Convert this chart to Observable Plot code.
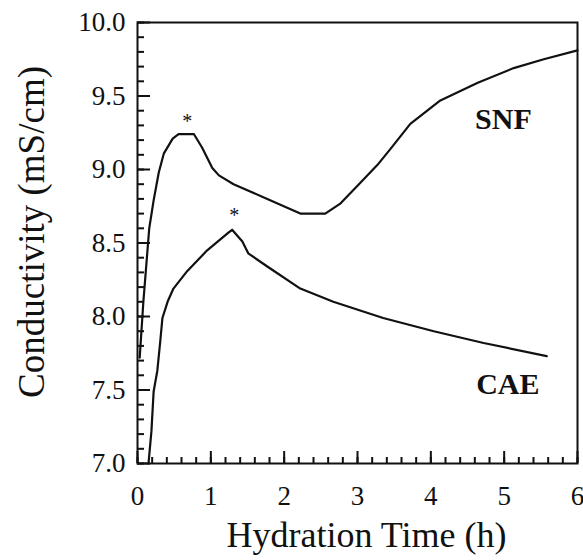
<!DOCTYPE html>
<html><head><meta charset="utf-8">
<script src="https://cdn.jsdelivr.net/npm/d3@7"></script>
<script src="https://cdn.jsdelivr.net/npm/@observablehq/plot@0.6"></script>
<style>body{margin:0;background:#fff} svg{display:block}</style>
</head><body><div id="chart"></div>
<script>
// SNF series (hydration time in h, conductivity in mS/cm)
const snfTime  = [0.03, 0.08, 0.16, 0.22, 0.29, 0.36, 0.48, 0.56, 0.77, 0.88, 1.02, 1.11, 1.31, 1.77, 2.22, 2.36, 2.56, 2.77, 3.00, 3.27, 3.45, 3.72, 4.13, 4.64, 5.13, 5.54, 6.00];
const snfValue = [7.72, 8.10, 8.60, 8.79, 8.98, 9.11, 9.21, 9.24, 9.24, 9.15, 9.01, 8.96, 8.90, 8.80, 8.70, 8.70, 8.70, 8.77, 8.89, 9.03, 9.14, 9.31, 9.47, 9.59, 9.69, 9.75, 9.81];
// CAE series
const caeTime  = [0.15, 0.19, 0.22, 0.27, 0.31, 0.34, 0.41, 0.49, 0.68, 0.95, 1.24, 1.29, 1.43, 1.51, 1.77, 2.22, 2.67, 3.35, 4.04, 4.72, 5.58];
const caeValue = [7.00, 7.22, 7.49, 7.63, 7.83, 7.99, 8.10, 8.19, 8.31, 8.45, 8.57, 8.59, 8.51, 8.43, 8.34, 8.19, 8.10, 7.99, 7.90, 7.82, 7.73];
// peak markers and series labels
const markerTime  = [0.68, 1.32];
const markerValue = [9.28, 8.64];
const seriesNames = ["SNF", "CAE"];
const nameTime    = [4.99, 5.05];
const nameValue   = [9.277, 7.47];
// ticks
const xTicks = [0, 1, 2, 3, 4, 5, 6];
const yTicks = [7.0, 7.5, 8.0, 8.5, 9.0, 9.5, 10.0];
const xMinor = d3.range(0, 6.0001, 0.2);
const yMinor = d3.range(7, 10.0001, 0.1);

const snf = snfTime.map((t, i) => ({t, v: snfValue[i]}));
const cae = caeTime.map((t, i) => ({t, v: caeValue[i]}));
const markers = markerTime.map((t, i) => ({t, v: markerValue[i]}));
const names = seriesNames.map((s, i) => ({s, t: nameTime[i], v: nameValue[i]}));

const serif = "'Liberation Serif','Times New Roman',Times,serif";
const W = 583, H = 560, mL = 137, mR = 6, mT = 22, mB = 97;
const ink = "#111";

const chart = Plot.plot({
  width: W, height: H,
  marginLeft: mL, marginRight: mR, marginTop: mT, marginBottom: mB,
  style: {fontFamily: serif, background: "#fff", color: ink},
  x: {domain: [0, 6]},
  y: {domain: [7, 10]},
  marks: [
    // tick labels
    Plot.axisX(xTicks, {tickSize: 0, tickPadding: 22, fontSize: 27, fontFamily: serif, label: null, tickFormat: d => String(d)}),
    Plot.axisY(yTicks, {tickSize: 0, tickPadding: 12, fontSize: 27, fontFamily: serif, label: null, tickFormat: ".1f"}),
    Plot.frame({stroke: ink, strokeWidth: 2}),
    Plot.line(snf, {x: "t", y: "v", stroke: ink, strokeWidth: 2.2}),
    Plot.line(cae, {x: "t", y: "v", stroke: ink, strokeWidth: 2.2}),
    Plot.text(markers, {x: "t", y: "v", text: () => "*", fontSize: 20, fontFamily: serif, lineAnchor: "bottom", fill: ink}),
    Plot.text(names, {x: "t", y: "v", text: "s", fontSize: 30, fontFamily: serif, fontWeight: "bold", lineAnchor: "bottom", fill: ink}),
    Plot.text(["Hydration Time (h)"], {frameAnchor: "bottom", textAnchor: "middle", dx: 9, dy: 83, lineAnchor: "bottom", fontSize: 36, fontFamily: serif, fill: ink}),
    Plot.text(["Conductivity (mS/cm)"], {frameAnchor: "left", textAnchor: "middle", dx: -94, dy: -11, rotate: -90, lineAnchor: "bottom", fontSize: 37, fontFamily: serif, fill: ink}),
    // inward tick marks, drawn last
    Plot.axisX(xMinor, {tickSize: -6, stroke: ink, strokeWidth: 2, tickFormat: () => "", label: null}),
    Plot.axisX(xTicks, {tickSize: -12, stroke: ink, strokeWidth: 2, tickFormat: () => "", label: null}),
    Plot.axisY(yMinor, {tickSize: -7, stroke: ink, strokeWidth: 2, tickFormat: () => "", label: null}),
    Plot.axisY(yTicks, {tickSize: -13, stroke: ink, strokeWidth: 2, tickFormat: () => "", label: null})
  ]
});
document.getElementById("chart").appendChild(chart);
</script>
</body></html>
